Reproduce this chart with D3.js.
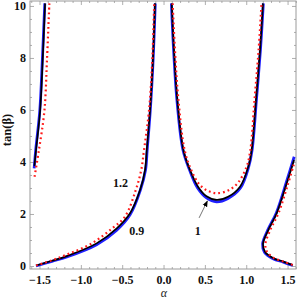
<!DOCTYPE html>
<html><head><meta charset="utf-8">
<script src="https://cdn.jsdelivr.net/npm/d3@7"></script>
<style>html,body{margin:0;padding:0;background:#fff;}svg{display:block;}</style>
</head><body>
<script>
// ---- data (alpha, tan(beta)) ----
const xTicks = [-1.5, -1.0, -0.5, 0.0, 0.5, 1.0, 1.5];
const yTicks = [0, 2, 4, 6, 8, 10];
const seriesNames = ["0.9", "1", "1.2"];

// ratio 0.9 (blue)
const blueA = [[-1.565,3.75],[-1.546,4.46],[-1.497,5.96],[-1.465,7.97],[-1.436,10.1]];
const blueB = [[-1.542,0.0],[-1.35,0.18],[-1.17,0.35],[-0.81,0.82],[-0.566,1.38],[-0.405,1.97],[-0.28,2.92],[-0.218,3.69],[-0.198,4.46],[-0.16,6.0],[-0.125,8.0],[-0.1,10.1]];
const blueC = [[0.095,10.1],[0.123,8.23],[0.162,6.38],[0.235,4.46],[0.315,3.69],[0.412,3.0],[0.52,2.62],[0.64,2.47],[0.78,2.6],[0.93,3.0],[1.03,3.82],[1.071,4.46],[1.123,6.38],[1.172,8.31],[1.207,10.1]];
const blueD = [[1.58,4.2],[1.488,3.25],[1.365,2.05],[1.26,1.38],[1.198,0.85],[1.222,0.52],[1.325,0.28],[1.449,0.15],[1.562,0.02]];

// ratio 1 (black)
const blackA = [[-1.562,3.85],[-1.542,4.46],[-1.493,5.96],[-1.461,7.97],[-1.433,10.1]];
const blackB = [[-1.542,0.02],[-1.35,0.2],[-1.17,0.38],[-0.81,0.87],[-0.566,1.45],[-0.405,2.03],[-0.284,2.92],[-0.224,3.69],[-0.203,4.46],[-0.163,6.0],[-0.127,8.0],[-0.103,10.1]];
const blackC = [[0.099,10.1],[0.127,8.23],[0.167,6.38],[0.240,4.46],[0.320,3.69],[0.417,3.05],[0.52,2.68],[0.643,2.54],[0.78,2.66],[0.925,3.05],[1.025,3.82],[1.066,4.46],[1.118,6.38],[1.167,8.31],[1.203,10.1]];
const blackD = [[1.578,4.08],[1.49,3.18],[1.369,2.03],[1.267,1.38],[1.203,0.85],[1.227,0.55],[1.328,0.30],[1.449,0.17],[1.562,0.04]];

// ratio 1.2 (red dotted)
const redA = [[-1.56,3.43],[-1.507,4.46],[-1.441,5.96],[-1.409,7.97],[-1.381,10.1]];
const redB = [[-1.542,0.02],[-1.35,0.22],[-1.2,0.4],[-0.868,0.87],[-0.62,1.45],[-0.466,1.9],[-0.336,2.92],[-0.27,3.69],[-0.236,4.46],[-0.175,6.0],[-0.135,8.0],[-0.113,10.1]];
const redC = [[0.11,10.1],[0.14,8.2],[0.18,6.4],[0.255,4.46],[0.335,3.69],[0.43,3.15],[0.53,2.9],[0.643,2.8],[0.78,2.9],[0.9,3.2],[1.005,3.82],[1.05,4.46],[1.1,6.38],[1.15,8.31],[1.185,10.1]];
const redD = [[1.575,3.9],[1.5,3.1],[1.39,2.03],[1.29,1.38],[1.232,0.85],[1.25,0.55],[1.34,0.3],[1.45,0.17],[1.562,0.04]];

// ---- layout ----
const W = 299, H = 301;
const L = 30, R = 296, T = 1, B = 269;
const svg = d3.select("body").append("svg").attr("width", W).attr("height", H);

const x = d3.scaleLinear().domain([-1.615, 1.602]).range([L, R]);
const y = d3.scaleLinear().domain([-0.115, 10.19]).range([B, T]);

const frameColor = "#9a9a9a";
const fontBold = "'Liberation Serif', 'DejaVu Serif', serif";

svg.append("clipPath").attr("id", "clip").append("rect")
  .attr("x", L).attr("y", T).attr("width", R - L).attr("height", B - T);

svg.append("rect").attr("x", L).attr("y", T).attr("width", R - L).attr("height", B - T)
  .attr("fill", "none").attr("stroke", frameColor).attr("stroke-width", 1);

const xMinor = d3.range(-1.6, 1.61, 0.1).map(v => +v.toFixed(2)).filter(v => !xTicks.some(t => Math.abs(t - v) < 1e-6));
const yMinor = d3.range(0, 10.01, 0.5).filter(v => !yTicks.includes(v));

const gB = svg.append("g").attr("transform", `translate(0,${B})`)
  .call(d3.axisBottom(x).tickValues(xTicks).tickSizeInner(-4).tickSizeOuter(0).tickFormat(d3.format(".1f")));
svg.append("g").attr("transform", `translate(0,${B})`).call(d3.axisBottom(x).tickValues(xMinor).tickSizeInner(-2).tickSizeOuter(0).tickFormat(""));
svg.append("g").attr("transform", `translate(0,${T})`).call(d3.axisTop(x).tickValues(xTicks).tickSizeInner(-4).tickSizeOuter(0).tickFormat(""));
svg.append("g").attr("transform", `translate(0,${T})`).call(d3.axisTop(x).tickValues(xMinor).tickSizeInner(-2).tickSizeOuter(0).tickFormat(""));

const gL = svg.append("g").attr("transform", `translate(${L},0)`)
  .call(d3.axisLeft(y).tickValues(yTicks).tickSizeInner(-4).tickSizeOuter(0).tickFormat(d3.format("d")));
svg.append("g").attr("transform", `translate(${L},0)`).call(d3.axisLeft(y).tickValues(yMinor).tickSizeInner(-2).tickSizeOuter(0).tickFormat(""));
svg.append("g").attr("transform", `translate(${R},0)`).call(d3.axisRight(y).tickValues(yTicks).tickSizeInner(-4).tickSizeOuter(0).tickFormat(""));
svg.append("g").attr("transform", `translate(${R},0)`).call(d3.axisRight(y).tickValues(yMinor).tickSizeInner(-2).tickSizeOuter(0).tickFormat(""));

svg.selectAll(".domain").remove();
svg.selectAll(".tick line").attr("stroke", frameColor).attr("stroke-width", 0.8);
svg.selectAll(".tick text").attr("fill", "#111").style("font-family", fontBold)
  .style("font-weight", "bold").style("font-size", "12px");
gB.selectAll(".tick text").attr("y", 6);
gL.selectAll(".tick text").attr("x", -4);

svg.append("text").attr("x", 164).attr("y", 297).attr("text-anchor", "middle")
  .style("font-family", fontBold).style("font-style", "italic").style("font-size", "12px").attr("fill", "#222").text("α");
svg.append("text").attr("transform", "translate(11,130) rotate(-90)").attr("text-anchor", "middle")
  .style("font-family", fontBold).style("font-weight", "bold").style("font-size", "12.5px").attr("fill", "#111").text("tan(β)");

const line = d3.line().x(d => x(d[0])).y(d => y(d[1])).curve(d3.curveCatmullRom.alpha(0.5));
const plot = svg.append("g").attr("clip-path", "url(#clip)");

const drawSet = (arrs, style) => arrs.forEach(a => {
  const p = plot.append("path").datum(a).attr("d", line).attr("fill", "none");
  Object.entries(style).forEach(([k, v]) => p.attr(k, v));
});
drawSet([blueA, blueB, blueC, blueD], {stroke: "#1f1fff", "stroke-width": 2.8});
drawSet([blackA, blackB, blackC, blackD], {stroke: "#000", "stroke-width": 1.7});
drawSet([redA, redB, redC, redD], {stroke: "#ff1a1a", "stroke-width": 2.2, "stroke-dasharray": "1.8,3"});

const lab = (t, px, py) => svg.append("text").attr("x", px).attr("y", py).attr("text-anchor", "middle")
  .style("font-family", fontBold).style("font-weight", "bold").style("font-size", "12px").attr("fill", "#111").text(t);
lab(seriesNames[2], x(-0.52), y(3.05));
lab(seriesNames[0], x(-0.325), y(1.2));
lab(seriesNames[1], x(0.415), y(1.2));

const defs = svg.append("defs");
defs.append("marker").attr("id", "ah").attr("viewBox", "0 0 10 10").attr("refX", 9).attr("refY", 5)
  .attr("markerWidth", 7).attr("markerHeight", 7).attr("orient", "auto")
  .append("path").attr("d", "M0,1 L10,5 L0,9 Z").attr("fill", "#000");
svg.append("line").attr("x1", x(0.43)).attr("y1", y(1.85)).attr("x2", x(0.53)).attr("y2", y(2.5))
  .attr("stroke", "#666").attr("stroke-width", 0.9).attr("marker-end", "url(#ah)");
</script>
</body></html>
